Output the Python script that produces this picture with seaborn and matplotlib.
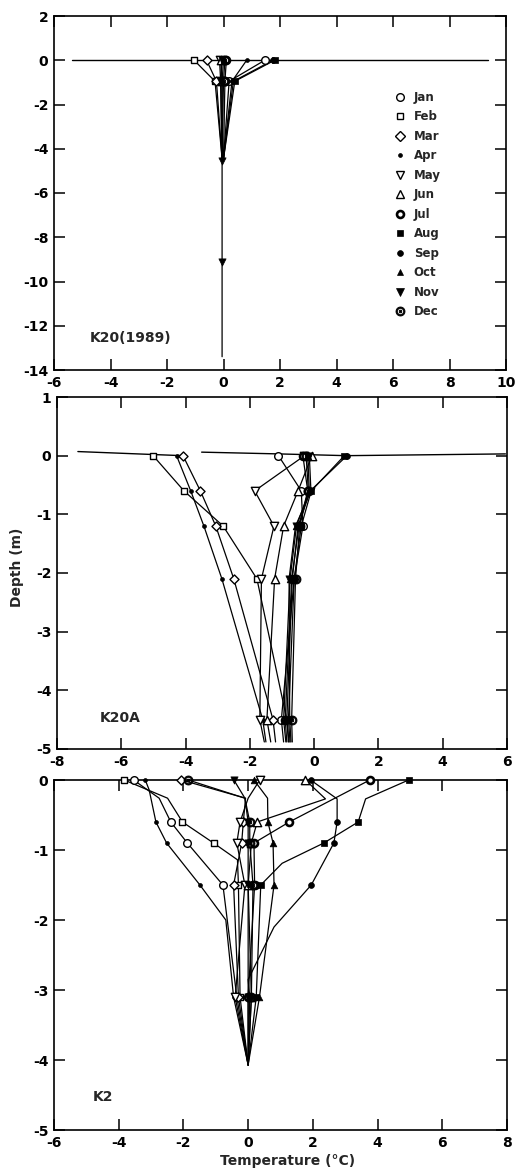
import numpy as np
import pandas as pd
import matplotlib
matplotlib.use("Agg")
import matplotlib.pyplot as plt
import seaborn as sns
from matplotlib.lines import Line2D

months = ["Jan", "Feb", "Mar", "Apr", "May", "Jun",
          "Jul", "Aug", "Sep", "Oct", "Nov", "Dec"]

# ---------------- K20 (1989) ----------------
k20_sensor = [0.0, -0.95, -4.55, -9.1]
k20_depth = {
    "Jan": [0.0, -0.95, -4.45], "Feb": [0.0, -0.95, -4.45], "Mar": [0.0, -0.95, -4.45],
    "Apr": [0.0, -0.95, -4.45], "May": [0.0, -0.95, -4.45], "Jun": [0.0, -0.95, -4.45],
    "Jul": [0.0, -0.95, -4.45], "Aug": [0.0, -0.95, -4.45], "Sep": [0.0, -0.95, -4.45],
    "Oct": [0.0, -0.95, -4.45], "Nov": [0.0, -0.95, -4.55, -9.1, -13.4],
    "Dec": [0.0, -0.95, -4.45],
}
k20_temp = {
    "Jan": [1.46, 0.20, 0.00], "Feb": [-1.04, -0.30, -0.05], "Mar": [-0.60, -0.25, -0.05],
    "Apr": [0.82, 0.30, 0.00], "May": [-0.14, -0.10, -0.05], "Jun": [-0.10, -0.05, -0.05],
    "Jul": [0.10, 0.05, 0.00], "Aug": [1.81, 0.40, 0.00], "Sep": [1.75, 0.35, 0.00],
    "Oct": [0.00, -0.05, -0.05], "Nov": [-0.05, -0.10, -0.05, -0.05, -0.05],
    "Dec": [0.05, 0.00, -0.05],
}
k20_surface_t = [-5.35, 9.35]
k20_surface_d = [0.0, 0.0]

# ---------------- K20A ----------------
k20a_sensor = [0.0, -0.6, -1.2, -2.1, -4.5]
k20a_levels = [0.0, -0.6, -1.2, -2.1, -4.5, -4.88]
k20a_temp = {
    "Jan": [-1.11, -0.40, -0.35, -0.62, -1.02, -0.95],
    "Feb": [-5.01, -4.05, -2.83, -1.78, -0.85, -0.80],
    "Mar": [-4.08, -3.54, -3.06, -2.50, -1.28, -1.20],
    "Apr": [-4.28, -3.84, -3.43, -2.87, -1.60, -1.50],
    "May": [-0.30, -1.85, -1.25, -1.64, -1.69, -1.55],
    "Jun": [-0.07, -0.50, -0.95, -1.23, -1.47, -1.35],
    "Jul": [-0.35, -0.20, -0.47, -0.70, -0.90, -0.85],
    "Aug": [0.94, -0.09, -0.40, -0.62, -0.80, -0.75],
    "Sep": [1.02, -0.12, -0.50, -0.68, -0.85, -0.78],
    "Oct": [-0.20, -0.15, -0.55, -0.75, -0.95, -0.88],
    "Nov": [-0.15, -0.10, -0.58, -0.78, -0.76, -0.72],
    "Dec": [-0.25, -0.18, -0.45, -0.58, -0.70, -0.68],
}
k20a_surf1_t = [-7.35, -4.10]
k20a_surf1_d = [0.07, 0.00]
k20a_surf2_t = [-3.50, -1.10, 1.00, 5.95]
k20a_surf2_d = [0.06, 0.03, 0.00, 0.03]

# ---------------- K2 ----------------
k2_sensor = [0.0, -0.6, -0.9, -1.5, -3.1]
k2_depth = {
    "Jan": [0.0, -0.26, -0.6, -0.9, -1.5, -3.1, -4.07],
    "Feb": [0.0, -0.26, -0.6, -0.9, -1.14, -1.5, -3.1, -4.07],
    "Mar": [0.0, -0.26, -0.6, -0.9, -1.5, -3.1, -4.07],
    "Apr": [0.0, -0.14, -0.6, -0.9, -1.5, -2.0, -3.1, -4.07],
    "May": [0.0, -0.26, -0.6, -0.9, -1.5, -3.1, -4.07],
    "Jun": [0.0, -0.27, -0.6, -0.9, -1.5, -3.1, -4.07],
    "Jul": [0.0, -0.6, -0.9, -1.5, -3.1, -4.07],
    "Aug": [0.0, -0.27, -0.6, -0.9, -1.19, -1.5, -3.1, -4.07],
    "Sep": [0.0, -0.27, -0.6, -0.9, -1.5, -2.1, -2.85, -3.1, -4.07],
    "Oct": [0.0, -0.26, -0.6, -0.9, -1.5, -3.1, -4.07],
    "Nov": [0.0, -0.26, -0.6, -0.9, -1.5, -3.1, -4.07],
    "Dec": [0.0, -0.26, -0.6, -0.9, -1.5, -3.1, -4.07],
}
k2_temp = {
    "Jan": [-3.54, -2.75, -2.39, -1.88, -0.78, -0.35, 0.0],
    "Feb": [-3.83, -2.49, -2.03, -1.07, -0.33, -0.30, -0.25, 0.0],
    "Mar": [-2.06, -0.08, -0.15, -0.20, -0.45, -0.30, 0.0],
    "Apr": [-3.18, -3.06, -2.85, -2.52, -1.49, -0.69, -0.45, 0.0],
    "May": [0.36, 0.00, -0.25, -0.35, -0.10, -0.40, 0.0],
    "Jun": [1.77, 2.39, 0.28, 0.10, 0.00, 0.10, 0.0],
    "Jul": [3.76, 1.27, 0.18, 0.20, 0.00, 0.0],
    "Aug": [4.96, 3.63, 3.40, 2.34, 1.05, 0.39, 0.25, 0.0],
    "Sep": [1.93, 2.75, 2.75, 2.65, 1.95, 0.80, 0.00, 0.05, 0.0],
    "Oct": [0.18, 0.60, 0.61, 0.77, 0.80, 0.35, 0.0],
    "Nov": [-0.44, -0.10, 0.00, 0.00, 0.00, 0.00, 0.0],
    "Dec": [-1.85, -0.10, 0.05, 0.05, 0.15, 0.10, 0.0],
}

# ---------------- styles ----------------
mstyle = {
    "Jan": dict(marker="o", fc="white", ms=5.5, mew=1.0),
    "Feb": dict(marker="s", fc="white", ms=5.0, mew=1.0),
    "Mar": dict(marker="D", fc="white", ms=4.6, mew=1.0),
    "Apr": dict(marker="o", fc="black", ms=2.8, mew=0.5),
    "May": dict(marker="v", fc="white", ms=6.0, mew=1.0),
    "Jun": dict(marker="^", fc="white", ms=6.0, mew=1.0),
    "Jul": dict(marker="o", fc="white", ms=5.0, mew=1.9),
    "Aug": dict(marker="s", fc="black", ms=3.8, mew=0.5),
    "Sep": dict(marker="o", fc="black", ms=4.2, mew=0.5),
    "Oct": dict(marker="^", fc="black", ms=4.8, mew=0.5),
    "Nov": dict(marker="v", fc="black", ms=5.2, mew=0.5),
    "Dec": dict(marker="$\\odot$", fc="black", ms=6.5, mew=0.6),
}

sns.set_theme(style="ticks")
plt.rcParams["font.family"] = ["DejaVu Sans"]
plt.rcParams["font.weight"] = "bold"
plt.rcParams["axes.unicode_minus"] = False
plt.rcParams["axes.linewidth"] = 1.2

W, H = 515, 1169
fig = plt.figure(figsize=(W / 100, H / 100), dpi=100)


def frac(left, right, top, bottom):
    return [left / W, 1 - bottom / H, (right - left) / W, (bottom - top) / H]


ax1 = fig.add_axes(frac(54, 506, 16, 370))
ax2 = fig.add_axes(frac(57, 507, 397, 749))
ax3 = fig.add_axes(frac(54, 507, 780, 1130))


def build(temp_dict, depth_dict, sensor):
    rows = []
    for m in months:
        d_list = depth_dict[m] if isinstance(depth_dict, dict) else depth_dict
        for t, d in zip(temp_dict[m], d_list):
            rows.append(dict(month=m, temp=t, depth=d,
                             mark=bool(np.any(np.isclose(d, sensor)))))
    return pd.DataFrame(rows)


def draw(ax, df):
    sns.lineplot(data=df, x="temp", y="depth", units="month", estimator=None,
                 sort=False, color="black", linewidth=0.9, ax=ax, legend=False)
    for m in months:
        sub = df[(df.month == m) & df.mark]
        st = mstyle[m]
        sns.scatterplot(data=sub, x="temp", y="depth", marker=st["marker"],
                        s=st["ms"] ** 2, color=st["fc"], edgecolor="black",
                        linewidth=st["mew"], ax=ax, zorder=3, legend=False,
                        clip_on=False)


df1 = build(k20_temp, k20_depth, k20_sensor)
df2 = build(k20a_temp, k20a_levels, k20a_sensor)
df3 = build(k2_temp, k2_depth, k2_sensor)

sns.lineplot(x=k20_surface_t, y=k20_surface_d, sort=False, estimator=None,
             color="black", linewidth=1.0, ax=ax1)
sns.lineplot(x=k20a_surf1_t, y=k20a_surf1_d, sort=False, estimator=None,
             color="black", linewidth=1.0, ax=ax2)
sns.lineplot(x=k20a_surf2_t, y=k20a_surf2_d, sort=False, estimator=None,
             color="black", linewidth=1.0, ax=ax2)
draw(ax1, df1)
draw(ax2, df2)
draw(ax3, df3)

ax1.set_xlim(-6, 10); ax1.set_ylim(-14, 2)
ax1.set_xticks(range(-6, 11, 2)); ax1.set_yticks(range(-14, 3, 2))
ax2.set_xlim(-8, 6); ax2.set_ylim(-5, 1)
ax2.set_xticks(range(-8, 7, 2)); ax2.set_yticks(range(-5, 2, 1))
ax3.set_xlim(-6, 8); ax3.set_ylim(-5, 0)
ax3.set_xticks(range(-6, 9, 2)); ax3.set_yticks(range(-5, 1, 1))

for ax in (ax1, ax2, ax3):
    ax.set_xlabel("")
    ax.set_ylabel("")
    ax.tick_params(direction="in", top=True, right=True, length=8, width=1.1,
                   labelsize=10, pad=4, colors="black")
    for sp in ax.spines.values():
        sp.set_color("black")
        sp.set_linewidth(1.2)
    for lab in ax.get_xticklabels() + ax.get_yticklabels():
        lab.set_fontweight("bold")

ax1.text(0.08, 0.09, "K20(1989)", transform=ax1.transAxes, fontsize=10,
         fontweight="bold", va="center", ha="left")
ax2.text(0.096, 0.088, "K20A", transform=ax2.transAxes, fontsize=10,
         fontweight="bold", va="center", ha="left")
ax3.text(0.086, 0.094, "K2", transform=ax3.transAxes, fontsize=10,
         fontweight="bold", va="center", ha="left")

handles = []
for m in months:
    st = mstyle[m]
    handles.append(Line2D([], [], linestyle="none", marker=st["marker"],
                          markerfacecolor=st["fc"], markeredgecolor="black",
                          markeredgewidth=st["mew"], markersize=st["ms"]))
leg = ax1.legend(handles, months, loc="upper left", bbox_to_anchor=(0.741, 0.802),
                 frameon=False, handlelength=1.0, handletextpad=0.7,
                 labelspacing=0.55, fontsize=8.5, borderaxespad=0)
for t in leg.get_texts():
    t.set_fontweight("bold")

fig.text(17 / W, 1 - 567 / H, "Depth (m)", rotation=90, ha="center",
         va="center", fontsize=10, fontweight="bold")
fig.text(288 / W, 1 - 1161 / H, "Temperature (\u00b0C)", ha="center",
         va="center", fontsize=10, fontweight="bold")

fig.savefig("out.png", dpi=100, facecolor="white")
